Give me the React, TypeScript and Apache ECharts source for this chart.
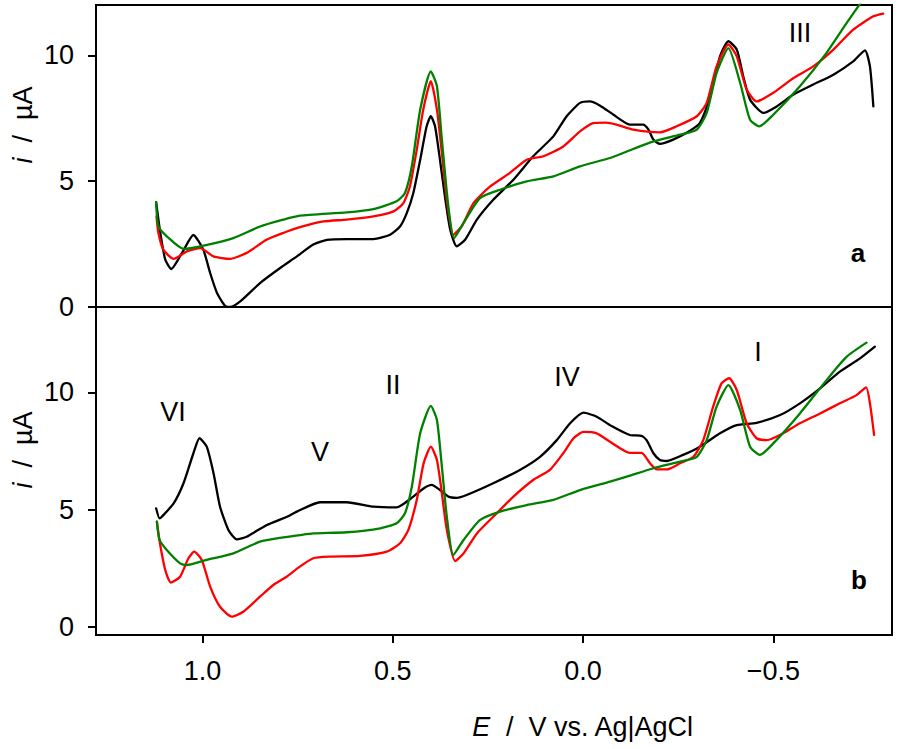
import React, { useEffect, useRef } from "react";
import * as echarts from "echarts";

// Potential axis (V vs. Ag|AgCl), reversed
const xTicks = [1.0, 0.5, 0.0, -0.5];
const yTicks = [0, 5, 10];

// Panel a
const aBlack: [number, number][] = [
  [1.122, 4.17], [1.111, 2.95], [1.098, 1.88], [1.082, 1.51], [1.054, 2.15], [1.024, 2.86],
  [0.998, 2.28], [0.98, 1.35], [0.962, 0.56], [0.941, 0.05], [0.927, 0.0], [0.901, 0.22],
  [0.849, 0.95], [0.796, 1.55], [0.752, 2.01], [0.709, 2.48], [0.673, 2.67], [0.621, 2.7],
  [0.551, 2.7], [0.507, 2.87], [0.481, 3.2], [0.463, 3.74], [0.446, 4.53], [0.428, 5.85],
  [0.411, 7.18], [0.4, 7.58], [0.389, 7.18], [0.376, 5.85], [0.363, 4.4], [0.349, 3.07],
  [0.332, 2.41], [0.31, 2.67], [0.279, 3.47], [0.236, 4.26], [0.183, 5.06], [0.131, 5.99],
  [0.078, 6.78], [0.043, 7.58], [0.008, 8.11], [-0.018, 8.17], [-0.045, 8.0], [-0.08, 7.64],
  [-0.123, 7.25], [-0.158, 7.25], [-0.172, 7.05], [-0.185, 6.65], [-0.202, 6.48], [-0.237, 6.65],
  [-0.272, 6.92], [-0.307, 7.31], [-0.334, 8.37], [-0.36, 9.96], [-0.382, 10.56], [-0.404, 10.23],
  [-0.421, 9.17], [-0.439, 8.24], [-0.474, 7.71], [-0.509, 7.97], [-0.553, 8.44], [-0.605, 8.84],
  [-0.658, 9.23], [-0.71, 9.76], [-0.741, 10.2], [-0.754, 9.56], [-0.763, 7.97],
];
const aRed: [number, number][] = [
  [1.121, 3.6], [1.116, 2.94], [1.103, 2.28], [1.076, 1.91], [1.041, 2.21], [1.006, 2.34],
  [0.971, 2.01], [0.928, 1.91], [0.884, 2.15], [0.832, 2.67], [0.788, 2.94], [0.744, 3.17],
  [0.682, 3.4], [0.621, 3.47], [0.551, 3.6], [0.498, 3.8], [0.472, 4.13], [0.455, 4.79],
  [0.437, 6.25], [0.42, 7.84], [0.4, 8.97], [0.384, 7.84], [0.371, 6.12], [0.358, 4.26],
  [0.341, 2.87], [0.319, 3.2], [0.288, 4.13], [0.244, 4.79], [0.192, 5.33], [0.148, 5.85],
  [0.104, 5.99], [0.052, 6.38], [0.008, 6.98], [-0.027, 7.31], [-0.06, 7.33], [-0.088, 7.25],
  [-0.132, 7.05], [-0.202, 6.94], [-0.246, 7.18], [-0.299, 7.58], [-0.325, 8.11], [-0.351, 9.56],
  [-0.382, 10.43], [-0.404, 9.96], [-0.43, 8.64], [-0.456, 8.17], [-0.5, 8.51], [-0.553, 9.1],
  [-0.605, 9.56], [-0.658, 10.23], [-0.71, 11.02], [-0.763, 11.55], [-0.789, 11.66],
];
const aGreen: [number, number][] = [
  [1.122, 4.17], [1.116, 3.2], [1.094, 2.81], [1.05, 2.31], [1.006, 2.41], [0.919, 2.74],
  [0.849, 3.2], [0.788, 3.47], [0.744, 3.63], [0.621, 3.76], [0.551, 3.89], [0.49, 4.2],
  [0.468, 4.53], [0.45, 5.59], [0.428, 7.84], [0.4, 9.36], [0.384, 8.77], [0.371, 6.65],
  [0.354, 4.0], [0.339, 2.74], [0.314, 3.34], [0.271, 4.33], [0.218, 4.66], [0.148, 4.99],
  [0.078, 5.19], [0.008, 5.59], [-0.071, 5.92], [-0.115, 6.18], [-0.185, 6.58], [-0.255, 6.85],
  [-0.299, 7.05], [-0.325, 7.71], [-0.351, 9.3], [-0.382, 10.29], [-0.413, 8.9], [-0.439, 7.44],
  [-0.463, 7.18], [-0.5, 7.64], [-0.57, 8.77], [-0.64, 10.1], [-0.693, 11.29], [-0.74, 12.3],
];

// Panel b
const bBlack: [number, number][] = [
  [1.122, 5.05], [1.113, 4.62], [1.107, 4.69], [1.076, 5.26], [1.05, 6.12], [1.024, 7.4],
  [1.008, 8.04], [0.989, 7.68], [0.971, 6.54], [0.954, 5.12], [0.932, 4.13], [0.91, 3.73],
  [0.884, 3.84], [0.831, 4.34], [0.778, 4.69], [0.752, 4.91], [0.691, 5.31], [0.621, 5.31],
  [0.551, 5.12], [0.49, 5.09], [0.446, 5.55], [0.419, 5.9], [0.398, 6.05], [0.376, 5.83],
  [0.354, 5.55], [0.332, 5.5], [0.306, 5.62], [0.236, 6.12], [0.166, 6.69], [0.113, 7.25],
  [0.069, 7.96], [0.034, 8.68], [-0.001, 9.13], [-0.036, 8.96], [-0.075, 8.56], [-0.123, 8.18],
  [-0.154, 8.14], [-0.167, 7.96], [-0.185, 7.4], [-0.202, 7.11], [-0.22, 7.07], [-0.263, 7.33],
  [-0.307, 7.68], [-0.36, 8.25], [-0.404, 8.6], [-0.456, 8.7], [-0.518, 9.03], [-0.57, 9.53],
  [-0.623, 10.17], [-0.675, 10.88], [-0.728, 11.45], [-0.767, 11.95],
];
const bRed: [number, number][] = [
  [1.12, 4.48], [1.112, 3.56], [1.098, 2.42], [1.083, 1.88], [1.059, 2.13], [1.037, 2.92],
  [1.022, 3.2], [1.002, 2.85], [0.98, 1.71], [0.954, 0.85], [0.923, 0.43], [0.893, 0.64],
  [0.849, 1.28], [0.814, 1.78], [0.779, 2.13], [0.748, 2.52], [0.709, 2.92], [0.665, 2.99],
  [0.586, 3.02], [0.516, 3.2], [0.481, 3.56], [0.459, 4.13], [0.437, 5.41], [0.419, 6.97],
  [0.4, 7.68], [0.384, 7.11], [0.371, 5.69], [0.358, 4.13], [0.336, 2.8], [0.314, 3.13],
  [0.279, 3.98], [0.236, 4.69], [0.183, 5.55], [0.131, 6.26], [0.087, 6.69], [0.052, 7.4],
  [0.025, 8.04], [-0.001, 8.31], [-0.036, 8.25], [-0.071, 7.89], [-0.123, 7.42], [-0.154, 7.42],
  [-0.176, 6.97], [-0.194, 6.71], [-0.22, 6.71], [-0.255, 6.97], [-0.29, 7.25], [-0.316, 7.96],
  [-0.342, 9.39], [-0.364, 10.38], [-0.384, 10.6], [-0.404, 10.1], [-0.43, 8.68], [-0.456, 8.04],
  [-0.483, 7.96], [-0.526, 8.25], [-0.57, 8.68], [-0.623, 9.1], [-0.675, 9.53], [-0.719, 9.88],
  [-0.744, 10.21], [-0.754, 9.53], [-0.765, 8.18],
];
const bGreen: [number, number][] = [
  [1.12, 4.48], [1.113, 3.7], [1.094, 3.27], [1.059, 2.7], [1.041, 2.63], [0.989, 2.85],
  [0.919, 3.13], [0.849, 3.63], [0.788, 3.81], [0.744, 3.91], [0.709, 3.98], [0.621, 4.03],
  [0.533, 4.2], [0.49, 4.41], [0.468, 4.84], [0.45, 5.97], [0.428, 8.25], [0.4, 9.42],
  [0.384, 8.82], [0.371, 6.83], [0.358, 4.69], [0.341, 3.06], [0.314, 3.7], [0.271, 4.55],
  [0.218, 4.91], [0.148, 5.19], [0.078, 5.41], [0.008, 5.83], [-0.071, 6.19], [-0.115, 6.4],
  [-0.185, 6.76], [-0.255, 7.04], [-0.299, 7.25], [-0.325, 7.96], [-0.351, 9.39], [-0.382, 10.31],
  [-0.413, 9.24], [-0.439, 7.68], [-0.465, 7.33], [-0.5, 7.82], [-0.57, 9.1], [-0.64, 10.52],
  [-0.693, 11.52], [-0.745, 12.12],
];

const FONT = "'Liberation Sans', Arial, sans-serif";
const BLACK = "#000000";
const RED = "#ff0000";
const GREEN = "#008000";

const fmtX = (v: number) => (v < 0 ? "\u2212" + Math.abs(v).toFixed(1) : v.toFixed(1));

export default function App() {
  const ref = useRef<HTMLDivElement>(null);
  useEffect(() => {
    if (!ref.current) return;
    const chart = echarts.init(ref.current, undefined, { renderer: "svg" });
    const xBase = {
      type: "value" as const,
      min: -0.812,
      max: 1.28,
      inverse: true,
      splitLine: { show: false },
      axisLine: { show: false, onZero: false },
    };
    const yBase = {
      type: "value" as const,
      position: "left" as const,
      splitLine: { show: false },
      axisLine: { show: false, onZero: false },
      axisTick: { show: true, length: 8, customValues: yTicks, lineStyle: { color: "#000", width: 2 } },
      axisLabel: {
        customValues: yTicks,
        margin: 22,
        fontSize: 27,
        fontFamily: FONT,
        color: "#000",
      },
    };
    const mk = (name: string, data: [number, number][], color: string, idx: number) => ({
      name,
      type: "line" as const,
      data,
      xAxisIndex: idx,
      yAxisIndex: idx,
      showSymbol: false,
      smooth: 0.2,
      clip: true,
      lineStyle: { color, width: 2.3, join: "round", cap: "round" },
      itemStyle: { color },
    });
    const txt = (text: string, x: number, y: number, size = 27, weight: any = "normal") => ({
      type: "text",
      x,
      y,
      style: {
        text,
        fontSize: size,
        fontWeight: weight,
        fontFamily: FONT,
        fill: "#000",
        align: "center",
        verticalAlign: "middle",
      },
    });
    const yName = (y: number) => ({
      type: "text",
      x: 23,
      y,
      rotation: Math.PI / 2,
      style: {
        text: "{it|i}  /  µA",
        fontSize: 27,
        fontFamily: FONT,
        fill: "#000",
        align: "center",
        verticalAlign: "middle",
        rich: {
          it: { fontStyle: "italic", fontSize: 27, fontFamily: FONT, fill: "#000" },
        },
      },
    });
    chart.setOption({
      animation: false,
      backgroundColor: "#fff",
      grid: [
        { left: 96, width: 796, top: 5, height: 302, show: true, borderColor: "#000", borderWidth: 2 },
        { left: 96, width: 796, top: 307, height: 328, show: true, borderColor: "#000", borderWidth: 2 },
      ],
      xAxis: [
        { ...xBase, gridIndex: 0, axisTick: { show: false }, axisLabel: { show: false } },
        {
          ...xBase,
          gridIndex: 1,
          position: "bottom",
          axisTick: { show: true, length: 8, customValues: xTicks, lineStyle: { color: "#000", width: 2 } },
          axisLabel: {
            customValues: xTicks,
            formatter: fmtX,
            margin: 22,
            fontSize: 27,
            fontFamily: FONT,
            color: "#000",
          },
        },
      ],
      yAxis: [
        { ...yBase, gridIndex: 0, min: 0, max: 12 },
        { ...yBase, gridIndex: 1, min: -0.354, max: 13.64 },
      ],
      series: [
        mk("a black", aBlack, BLACK, 0),
        mk("a red", aRed, RED, 0),
        mk("a green", aGreen, GREEN, 0),
        mk("b black", bBlack, BLACK, 1),
        mk("b red", bRed, RED, 1),
        mk("b green", bGreen, GREEN, 1),
      ],
      graphic: [
        yName(125),
        yName(450),
        {
          type: "text",
          x: 583,
          y: 727,
          style: {
            text: "{it|E}  /  V vs. Ag|AgCl",
            fontSize: 27,
            fontFamily: FONT,
            fill: "#000",
            align: "center",
            verticalAlign: "middle",
            rich: { it: { fontStyle: "italic", fontSize: 27, fontFamily: FONT, fill: "#000" } },
          },
        },
        txt("III", 800, 33),
        txt("a", 858, 253, 26, "bold"),
        txt("VI", 173, 412),
        txt("V", 320, 452),
        txt("II", 393, 385),
        txt("IV", 567, 377),
        txt("I", 758, 352),
        txt("b", 859, 580, 26, "bold"),
      ],
    });
    return () => chart.dispose();
  }, []);
  return (
    <div
      ref={ref}
      style={{ position: "fixed", left: 0, top: 0, width: 898, height: 749, background: "#fff" }}
    />
  );
}
